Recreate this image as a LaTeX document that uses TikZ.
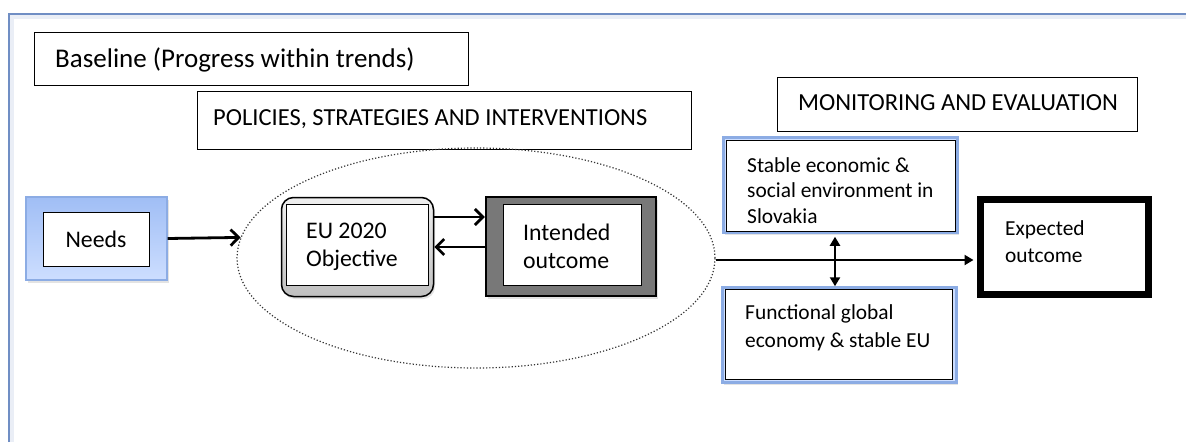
\documentclass[tikz,border=0pt]{standalone}
\usepackage{fontspec}
\setmainfont{Carlito}
\usetikzlibrary{arrows.meta,shapes.geometric,shadows,calc}
\definecolor{framec}{RGB}{112,142,196}
\definecolor{blueline}{RGB}{140,172,228}
\definecolor{bluetop}{RGB}{160,190,245}
\definecolor{bluebot}{RGB}{205,222,255}
\definecolor{intgray}{RGB}{120,120,120}
\tikzset{
  lbl/.style={font=\fontsize{23.8}{28}\selectfont, align=left, inner sep=0pt},
  lblbig/.style={font=\fontsize{27}{30}\selectfont, align=left, inner sep=0pt},
  lblhead/.style={font=\fontsize{24.5}{28}\selectfont, align=left, inner sep=0pt},
  lblsmall/.style={font=\fontsize{21.4}{27}\selectfont, align=left, inner sep=0pt},
  plainbox/.style={draw=black, line width=1pt, fill=white, inner sep=0pt},
  shad/.style={drop shadow={opacity=0.22, shadow xshift=1.5pt, shadow yshift=-2.5pt}},
  needsouter/.style={draw=blueline, line width=1.2pt, top color=bluetop, bottom color=bluebot, inner sep=0pt, shad},
  euouter/.style={draw=black, line width=1.5pt, rounded corners=12pt, top color=gray!12, bottom color=gray!50, inner sep=0pt, shad},
  intouter/.style={draw=black, line width=2.5pt, fill=intgray, inner sep=0pt, shad},
  blueouter/.style={draw=blueline, line width=2.5pt, fill=bluebot, inner sep=0pt, shad},
  expbox/.style={draw=black, line width=7pt, fill=white, inner sep=0pt, shad},
  conn/.style={line width=2.8pt, -{Straight Barb[length=8pt,width=16pt,line width=2.8pt]}},
  conf/.style={line width=2.5pt, -{Triangle[length=9pt,width=10pt]}},
  dconf/.style={line width=2.5pt, {Triangle[length=9pt,width=10pt]}-{Triangle[length=9pt,width=10pt]}},
}
\begin{document}
\begin{tikzpicture}[x=1pt,y=-1pt]
\useasboundingbox (0,0) rectangle (1186,442);
\fill[white] (0,0) rectangle (1186,442);
% frame
\fill[framec!15] (10,15) rectangle (1186,19);
\fill[framec!15] (10,15) rectangle (14,442);
\draw[framec, line width=2pt] (9,442) -- (9,14) -- (1186,14);

% headers
\node[plainbox, minimum width=434, minimum height=53] (base) at (251,58.5) {};
\node[lblbig, anchor=west] (baset) at (55,60) {Baseline (Progress within trends)};
\node[plainbox, minimum width=494, minimum height=58] (pol) at (444,120) {};
\node[lblhead, anchor=west] (polt) at (213,119) {POLICIES, STRATEGIES AND INTERVENTIONS};
\node[plainbox, minimum width=360, minimum height=54] (mon) at (957,104) {};
\node[lblhead, anchor=west] (mont) at (798,103) {MONITORING AND EVALUATION};

% ellipse
\node[draw=black!80, dotted, line width=1.2pt, ellipse, minimum width=478, minimum height=220, inner sep=0pt] (ell) at (476,258) {};

% needs
\node[needsouter, minimum width=141, minimum height=83] (needsO) at (96.5,238.5) {};
\node[plainbox, minimum width=106, minimum height=54] (needs) at (96,239) {};
\node[lbl] (needst) at (96,239) {Needs};

% EU 2020
\node[euouter, minimum width=152, minimum height=99] (euO) at (357.5,247) {};
\node[plainbox, minimum width=142, minimum height=81] (eu) at (357,244.5) {};
\node[lbl, anchor=west] (eut) at (306,247) {EU 2020\\Objective};

% Intended
\node[intouter, minimum width=170, minimum height=99] (intO) at (571,246.5) {};
\node[plainbox, minimum width=138, minimum height=81] (int) at (572,244.5) {};
\node[lbl, anchor=west] (intt) at (523,246.5) {Intended\\outcome};

% Stable
\node[blueouter, minimum width=234, minimum height=95] (stabO) at (840.5,185) {};
\node[plainbox, minimum width=229, minimum height=91] (stab) at (840.5,185.5) {};
\node[lblsmall, anchor=west, font=\fontsize{21.4}{25.5}\selectfont] (stabt) at (747,190.5) {Stable economic \&\\social environment in\\Slovakia};

% Functional
\node[blueouter, minimum width=234, minimum height=95] (funcO) at (839.5,335) {};
\node[plainbox, minimum width=227, minimum height=90] (func) at (838.5,334) {};
\node[lblsmall, anchor=west, font=\fontsize{21.4}{28}\selectfont] (funct) at (745,327.5) {Functional global\\economy \& stable EU};

% Expected
\node[expbox, minimum width=168, minimum height=95] (exp) at (1064.5,247) {};
\node[lblsmall, anchor=west] (expt) at (1005,241.5) {Expected\\outcome};

% connectors
\coordinate (ya) at (0,217);
\coordinate (yb) at (0,247);
\coordinate (yh) at (0,260);
\coordinate (xv) at (835,0);
\draw[conn] (needsO.east) -- (ell.175);
\draw[conn] (euO.east |- ya) -- (intO.west |- ya);
\draw[conn] (intO.west |- yb) -- (euO.east |- yb);
\draw[conf] (ell.east |- yh) -- ([xshift=-3.5pt]exp.west |- yh);
\draw[dconf, shorten <=3pt] (stabO.south -| xv) -- (funcO.north -| xv);
\end{tikzpicture}
\end{document}
